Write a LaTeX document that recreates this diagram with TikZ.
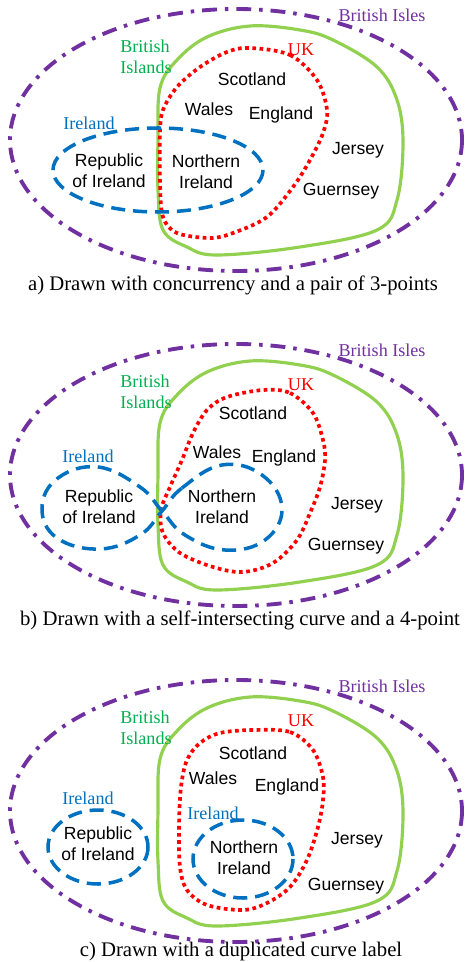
\documentclass[tikz,border=0pt]{standalone}
\usepackage{fontspec}
\setmainfont{Liberation Serif}
\setsansfont{Liberation Sans}
\usepackage{tikz}

\definecolor{islescol}{HTML}{7030A0}
\definecolor{islandscol}{HTML}{92D050}
\definecolor{islandstext}{HTML}{00B050}
\definecolor{ukcol}{HTML}{FF0000}
\definecolor{irecol}{HTML}{0070C0}

\begin{document}
\begin{tikzpicture}[x=0.02cm,y=-0.02cm]
\tikzstyle{isles}=[islescol, line width=2.2pt, dash pattern=on 8.5pt off 4.5pt on 2pt off 4.5pt]
\tikzstyle{islands}=[islandscol, line width=1.8pt]
\tikzstyle{uk}=[ukcol, line width=2.1pt, dash pattern=on 2.1pt off 2pt]
\tikzstyle{ire}=[irecol, line width=2pt, dash pattern=on 8pt off 4.5pt]
\tikzstyle{region}=[inner sep=0pt, align=center, font=\sffamily\fontsize{10}{12}\selectfont]
\tikzstyle{curvelabel}=[inner sep=0pt, font=\fontsize{10.3}{12}\selectfont]
\tikzstyle{caption}=[inner sep=0pt, font=\fontsize{11.8}{13}\selectfont]
\useasboundingbox (0,0) rectangle (465,962);

% outer curves, the same in every panel
\foreach \dy/\p in {0/a,335/b,671/c}{
  \begin{scope}[shift={(0,\dy)}]
	\draw[isles] (236,140) ellipse [x radius=226, y radius=131];
	\draw[islands] plot[smooth cycle, tension=0.6] coordinates {(160,88) (177,60) (207,37) (250,26) (300,30) (333,40) (377,67) (397,100) (403,143) (397,200) (377,230) (300,247) (217,255) (187,247) (163,230) (158,190) (158,140)};
	\node[curvelabel, islescol] (isles\p) at (382,15) {British Isles};
	\node[curvelabel, islandstext, anchor=west, align=left] (islands\p) at (120,57) {British\\Islands};
	\node[curvelabel, ukcol] (uk\p) at (301,50) {UK};
  \end{scope}
}

% a)
\draw[uk] plot[smooth cycle, tension=0.55] coordinates {(250,48) (290,55) (317,80) (327,110) (323,133) (310,160) (293,187) (267,217) (233,233) (210,238) (177,233) (163,217) (160,183) (160,133) (163,110) (177,87) (200,67) (227,52)};
\draw[ire] (158,170) ellipse [x radius=105, y radius=42];
\node[curvelabel, irecol] (irea) at (89,123) {Ireland};
\node[region] (scota) at (252,79) {Scotland};
\node[region] (walesa) at (209,109) {Wales};
\node[region] (enga) at (281,115) {England};
\node[region] (jerseya) at (358,150) {Jersey};
\node[region] (guerna) at (341,191) {Guernsey};
\node[region] (repa) at (109,171) {Republic\\of Ireland};
\node[region] (nira) at (206,172) {Northern\\Ireland};
\node[caption] (capa) at (233,285) {a) Drawn with concurrency and a pair of 3-points};

% b)
\draw[uk] plot[smooth cycle, tension=0.55] coordinates {(263,390) (290,393) (313,413) (323,440) (325,460) (320,487) (310,513) (297,540) (273,563) (243,572) (213,567) (180,553) (163,533) (161,510) (170,487) (182,460) (193,433) (207,410) (227,397)};
\draw[ire] plot[smooth cycle, tension=0.7] coordinates {(162,511) (182,488) (222,465) (262,475) (282,508) (265,540) (225,550) (185,535) (162,511) (140,487) (98,467) (58,478) (42,508) (57,538) (100,549) (140,535)};
\node[curvelabel, irecol] (ireb) at (88,456) {Ireland};
\node[region] (scotb) at (253,413) {Scotland};
\node[region] (walesb) at (217,452) {Wales};
\node[region] (engb) at (284,458) {England};
\node[region] (jerseyb) at (357,505) {Jersey};
\node[region] (guernb) at (346,546) {Guernsey};
\node[region] (repb) at (99,507) {Republic\\of Ireland};
\node[region] (nirb) at (222,507) {Northern\\Ireland};
\node[caption] (capb) at (240,620) {b) Drawn with a self-intersecting curve and a 4-point};

% c)
\draw[uk] plot[smooth cycle, tension=0.55] coordinates {(253,730) (290,732) (313,750) (323,777) (323,800) (318,827) (307,860) (290,887) (267,903) (243,910) (207,905) (187,890) (180,867) (179,827) (181,787) (187,760) (200,743) (220,733)};
\draw[ire] (98,847) ellipse [x radius=50, y radius=37];
\draw[ire] (243,859) ellipse [x radius=50, y radius=39];
\node[curvelabel, irecol] (irec) at (88,798) {Ireland};
\node[curvelabel, irecol] (irec2) at (213,813) {Ireland};
\node[region] (scotc) at (253,753) {Scotland};
\node[region] (walesc) at (213,778) {Wales};
\node[region] (engc) at (287,787) {England};
\node[region] (jerseyc) at (357,840) {Jersey};
\node[region] (guernc) at (346,886) {Guernsey};
\node[region] (repc) at (98,844) {Republic\\of Ireland};
\node[region] (nirc) at (244,858) {Northern\\Ireland};
\node[caption] (capc) at (241,952) {c) Drawn with a duplicated curve label};

\end{tikzpicture}
\end{document}
